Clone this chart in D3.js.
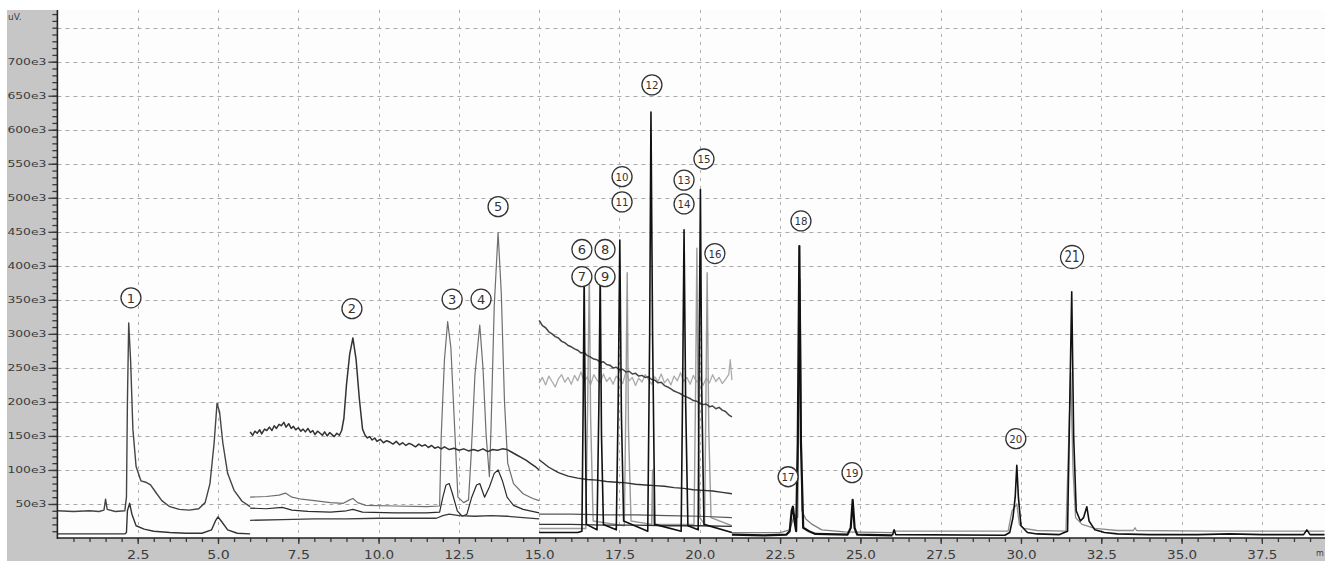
<!DOCTYPE html>
<html>
<head>
<meta charset="utf-8">
<script src="https://cdn.jsdelivr.net/npm/d3@7"></script>
<style>
  body { margin: 0; background: #fff; }
  svg { display: block; }
</style>
</head>
<body>
<div id="chart"></div>
<script>
// ---- data (time in min, signal in e3 units) ----
var xTicks = [2.5, 5.0, 7.5, 10.0, 12.5, 15.0, 17.5, 20.0, 22.5, 25.0, 27.5, 30.0, 32.5, 35.0, 37.5];
var xTickLabels = ["2.5", "5.0", "7.5", "10.0", "12.5", "15.0", "17.5", "20.0", "22.5", "25.0", "27.5", "30.0", "32.5", "35.0", "37.5"];
var yTicks = [50, 100, 150, 200, 250, 300, 350, 400, 450, 500, 550, 600, 650, 700];
var yTickLabels = ["50e3", "100e3", "150e3", "200e3", "250e3", "300e3", "350e3", "400e3", "450e3", "500e3", "550e3", "600e3", "650e3", "700e3"];
var yGrid = [50, 100, 150, 200, 250, 300, 350, 400, 450, 500, 550, 600, 650, 700, 750];

// segment 1 (0 - 6 min)
var seg1Upper = [[0,40],[0.5,39],[1.0,40],[1.3,39],[1.45,41],[1.5,57],[1.55,42],[1.8,39],[2.1,40],[2.15,60],[2.18,200],[2.22,316],[2.28,260],[2.35,160],[2.45,105],[2.6,84],[2.75,82],[2.9,78],[3.05,68],[3.25,55],[3.5,46],[3.8,42],[4.1,41],[4.4,43],[4.6,52],[4.75,80],[4.88,140],[4.97,198],[5.05,185],[5.15,140],[5.3,95],[5.5,70],[5.75,54],[6.0,46]];
var seg1Lower = [[0,6],[1.0,6],[2.1,6],[2.15,8],[2.18,40],[2.25,51],[2.32,35],[2.45,18],[2.7,13],[3.0,10],[3.5,8],[4.0,7],[4.5,7],[4.8,12],[4.92,25],[5.0,31],[5.1,25],[5.3,12],[5.6,7],[6.0,6]];

// segment 2 (6 - 15 min)
var seg2Noisy = [[6.0,156],[6.08,151],[6.15,157],[6.22,154],[6.3,159],[6.36,153],[6.45,160],[6.52,158],[6.6,163],[6.68,158],[6.75,165],[6.82,161],[6.9,167],[6.97,165],[7.05,170],[7.12,163],[7.2,168],[7.28,161],[7.35,164],[7.42,159],[7.5,162],[7.58,157],[7.65,160],[7.72,156],[7.8,161],[7.88,155],[7.95,158],[8.02,152],[8.1,157],[8.18,154],[8.25,151],[8.32,156],[8.4,150],[8.48,155],[8.55,152],[8.62,149],[8.7,154],[8.78,151],[8.85,158],[8.92,176],[9.0,225],[9.1,270],[9.2,294],[9.3,262],[9.4,205],[9.5,160],[9.58,151],[9.65,147],[9.72,149],[9.8,144],[9.88,147],[9.95,142],[10.05,145],[10.15,140],[10.25,143],[10.35,141],[10.45,138],[10.55,142],[10.65,137],[10.75,140],[10.85,136],[10.95,139],[11.05,137],[11.15,134],[11.25,138],[11.35,135],[11.45,137],[11.55,133],[11.65,136],[11.75,132],[11.85,134],[11.95,131],[12.05,134],[12.2,130],[12.35,132],[12.5,129],[12.65,131],[12.8,128],[12.95,130],[13.1,128],[13.25,131],[13.4,127],[13.55,130],[13.7,129],[13.85,131],[14.0,130],[14.15,126],[14.3,122],[14.45,118],[14.6,114],[14.75,109],[14.9,104],[15.0,100]];
var seg2Tall = [[6.0,60],[6.5,61],[6.9,63],[7.1,66],[7.3,60],[7.6,57],[8.0,55],[8.5,52],[8.9,51],[9.1,56],[9.2,58],[9.35,52],[9.6,48],[10.5,47],[11.5,46],[11.9,47],[11.95,150],[12.05,262],[12.15,318],[12.25,280],[12.35,180],[12.47,60],[12.65,52],[12.8,56],[12.88,120],[13.0,240],[13.15,313],[13.25,250],[13.35,150],[13.45,90],[13.5,160],[13.6,340],[13.72,449],[13.82,360],[13.92,200],[14.02,110],[14.2,80],[14.5,65],[14.8,58],[15.0,55]];
var seg2Small = [[6.0,44],[6.5,43],[7.0,45],[7.3,41],[7.8,39],[8.5,38],[9.0,40],[9.2,42],[9.5,38],[10.5,37],[11.5,37],[11.9,38],[12.0,60],[12.1,78],[12.2,80],[12.3,65],[12.45,40],[12.6,32],[12.75,35],[12.9,60],[13.05,78],[13.15,80],[13.3,60],[13.45,75],[13.6,95],[13.72,100],[13.85,85],[14.0,60],[14.2,48],[14.5,42],[15.0,37]];
var seg2Base = [[6.0,26],[7.0,27],[8.0,28],[9.0,28],[10.0,29],[11.0,29],[11.8,29],[12.0,33],[12.2,35],[12.5,33],[13.0,32],[13.5,33],[14.0,32],[14.5,30],[15.0,28]];

// segment 3 (15 - 21 min)
var seg3Drift = [[15.0,320],[15.1,312],[15.2,309],[15.3,303],[15.4,300],[15.5,296],[15.6,294],[15.7,289],[15.8,287],[15.9,283],[16.0,281],[16.1,278],[16.2,276],[16.3,272],[16.4,273],[16.5,268],[16.6,266],[16.7,263],[16.8,262],[16.9,258],[17.0,259],[17.1,255],[17.2,254],[17.3,250],[17.4,251],[17.5,247],[17.6,248],[17.7,244],[17.8,245],[17.9,241],[18.0,242],[18.1,238],[18.2,239],[18.3,236],[18.4,237],[18.5,233],[18.6,232],[18.7,228],[18.8,229],[18.9,224],[19.0,222],[19.1,219],[19.2,216],[19.3,214],[19.4,212],[19.5,209],[19.6,207],[19.7,205],[19.8,202],[19.9,201],[20.0,198],[20.1,196],[20.2,197],[20.3,193],[20.4,194],[20.5,190],[20.6,192],[20.7,188],[20.8,186],[20.9,181],[21.0,178]];
var seg3Flat = [[15.0,228],[15.1,236],[15.2,225],[15.3,238],[15.4,230],[15.5,222],[15.6,234],[15.7,240],[15.8,229],[15.9,236],[16.0,226],[16.1,239],[16.2,231],[16.3,244],[16.4,230],[16.5,237],[16.6,225],[16.7,240],[16.8,232],[16.9,228],[17.0,241],[17.1,230],[17.2,236],[17.3,226],[17.4,238],[17.5,233],[17.6,227],[17.7,244],[17.8,231],[17.9,236],[18.0,224],[18.1,235],[18.2,229],[18.3,240],[18.4,233],[18.5,226],[18.6,237],[18.7,230],[18.8,241],[18.9,228],[19.0,234],[19.1,225],[19.2,238],[19.3,231],[19.4,243],[19.5,230],[19.6,236],[19.7,226],[19.8,239],[19.9,229],[20.0,237],[20.1,224],[20.2,235],[20.3,228],[20.4,240],[20.5,230],[20.6,236],[20.7,227],[20.8,233],[20.9,240],[20.95,262],[21.0,232]];
var seg3Mid = [[15.0,115],[15.3,104],[15.6,96],[15.9,91],[16.2,88],[16.5,86],[16.8,85],[17.1,83],[17.4,82],[17.7,81],[18.0,79],[18.3,78],[18.6,77],[18.9,76],[19.2,74],[19.5,73],[19.8,71],[20.1,70],[20.4,69],[20.7,67],[21.0,65]];
var seg3Low = [[15.0,35],[16.0,35],[17.0,34],[18.0,34],[19.0,33],[20.0,32],[21.0,30]];
var seg3Floor = [[15.0,20],[16.0,20],[17.0,19],[18.0,19],[19.0,18],[20.0,18],[21.0,17]];
var seg3Black = [[15.0,8],[16.2,8],[16.33,10],[16.37,200],[16.4,387],[16.43,200],[16.47,20],[16.8,12],[16.86,200],[16.9,390],[16.94,150],[17.0,20],[17.4,12],[17.46,200],[17.51,438],[17.56,180],[17.63,25],[18.38,10],[18.44,300],[18.48,626],[18.53,300],[18.6,20],[19.42,10],[19.47,240],[19.51,453],[19.56,200],[19.63,18],[19.95,12],[19.98,260],[20.02,512],[20.06,220],[20.13,20],[21.0,8]];
var seg3Grey = [[15.0,14],[16.45,14],[16.51,200],[16.56,390],[16.6,180],[16.68,25],[17.65,18],[17.7,200],[17.74,390],[17.78,160],[17.86,25],[18.5,20],[18.53,100],[18.56,20],[19.82,20],[19.87,220],[19.91,426],[19.95,180],[20.0,30],[20.15,20],[20.19,200],[20.23,390],[20.28,160],[20.35,30],[21.0,18]];

// segment 4 (21 - 26 min)
var seg4Black = [[21.0,5],[22.0,4],[22.7,5],[22.8,10],[22.86,40],[22.9,46],[22.95,25],[23.0,10],[23.05,140],[23.1,429],[23.15,140],[23.22,15],[23.4,10],[23.6,6],[24.6,5],[24.7,15],[24.76,56],[24.82,15],[24.9,5],[26.0,4]];
var seg4Grey = [[21.0,8],[22.5,8],[22.8,12],[22.95,35],[23.05,30],[23.12,380],[23.18,40],[23.3,28],[23.5,20],[23.8,12],[24.5,9],[26.0,8]];

// segment 5 (26 min - end)
var seg5Black = [[26.0,4],[26.05,12],[26.1,5],[29.5,4],[29.65,8],[29.75,30],[29.82,60],[29.87,107],[29.92,60],[30.0,18],[30.2,8],[30.5,6],[31.2,5],[31.45,10],[31.52,200],[31.58,362],[31.64,150],[31.72,40],[31.85,25],[31.95,30],[32.05,46],[32.12,25],[32.3,12],[32.6,8],[33.0,6],[34.0,5],[35.5,5],[36.5,6],[37.5,5],[38.8,5],[38.9,12],[39.0,5],[39.45,5]];
var seg5Grey = [[26.0,10],[28.0,10],[29.6,10],[29.72,40],[29.8,45],[29.87,50],[29.95,20],[30.1,14],[30.5,11],[31.4,10],[31.55,243],[31.62,100],[31.7,30],[31.9,20],[32.3,14],[33.0,11],[33.5,11],[33.55,15],[33.6,11],[36.0,10],[39.45,10]];

// peak labels (numbers shown inside circles)
var peakNames = ["1","2","3","4","5","6","7","8","9","10","11","12","13","14","15","16","17","18","19","20","21"];
var peakTimes = [2.29, 9.17, 12.29, 13.19, 13.72, 16.33, 16.33, 17.05, 17.05, 17.58, 17.58, 18.51, 19.51, 19.51, 20.13, 20.47, 22.75, 23.15, 24.74, 29.84, 31.59];
var peakLevels = [353, 337, 351, 351, 487, 424, 384, 424, 384, 531, 494, 666, 526, 491, 557, 418, 90, 466, 96, 146, 413];

// ---- drawing ----
var width = 1325, height = 561;
var svg = d3.select("#chart").append("svg")
  .attr("width", width)
  .attr("height", height);

var x = d3.scaleLinear().domain([0, 39.45]).range([57.4, 1324.5]);
var y = d3.scaleLinear().domain([0, 776]).range([538, 10]);

// grey frame + white plotting area
svg.append("rect").attr("x", 7).attr("y", 10).attr("width", width - 7).attr("height", height - 10).attr("fill", "#c6c6c6");
svg.append("rect").attr("x", x(0)).attr("y", 10).attr("width", width - x(0)).attr("height", y(0) - 10).attr("fill", "#fdfdfd");

// grid
svg.selectAll(".hgrid").data(yGrid).enter().append("line")
  .attr("x1", x(0)).attr("x2", width)
  .attr("y1", function(d){ return Math.round(y(d)) + 0.5; })
  .attr("y2", function(d){ return Math.round(y(d)) + 0.5; })
  .attr("stroke", "#a8a8a8").attr("stroke-dasharray", "4,4");
svg.selectAll(".vgrid").data(xTicks).enter().append("line")
  .attr("x1", function(d){ return Math.round(x(d)) + 0.5; })
  .attr("x2", function(d){ return Math.round(x(d)) + 0.5; })
  .attr("y1", 10).attr("y2", y(0))
  .attr("stroke", "#b0b0b0").attr("stroke-dasharray", "3,5");

// traces
svg.append("clipPath").attr("id", "plot").append("rect")
  .attr("x", x(0)).attr("y", 10).attr("width", width - x(0)).attr("height", y(0) - 10);

var traces = [
  {d: seg3Flat, c: "#ababab", w: 1.3},
  {d: seg3Grey, c: "#9a9a9a", w: 1.4},
  {d: seg5Grey, c: "#8e8e8e", w: 1.3},
  {d: seg4Grey, c: "#808080", w: 1.3},
  {d: seg2Tall, c: "#6e6e6e", w: 1.2},
  {d: seg1Upper, c: "#444", w: 1.4},
  {d: seg1Lower, c: "#333", w: 1.4},
  {d: seg2Noisy, c: "#333", w: 1.5},
  {d: seg2Small, c: "#2a2a2a", w: 1.2},
  {d: seg2Base, c: "#3a3a3a", w: 1.3},
  {d: seg3Drift, c: "#444", w: 1.5},
  {d: seg3Mid, c: "#333", w: 1.4},
  {d: seg3Low, c: "#555", w: 1.2},
  {d: seg3Floor, c: "#333", w: 1.3},
  {d: seg3Black, c: "#111", w: 1.6},
  {d: seg4Black, c: "#111", w: 2.2},
  {d: seg5Black, c: "#111", w: 1.6}
];

var line = d3.line()
  .x(function(d){ return x(d[0]); })
  .y(function(d){ return y(d[1]); });

svg.append("g").attr("clip-path", "url(#plot)")
  .selectAll("path").data(traces).enter().append("path")
  .attr("d", function(t){ return line(t.d); })
  .attr("fill", "none")
  .attr("stroke", function(t){ return t.c; })
  .attr("stroke-width", function(t){ return t.w; })
  .attr("stroke-linejoin", "round");

// axes
var yMinor = svg.append("g").attr("transform", "translate(" + x(0) + ",0)")
  .call(d3.axisLeft(y).tickValues(d3.range(10, 771, 10)).tickSize(5).tickFormat(""));
var yAxis = svg.append("g").attr("transform", "translate(" + x(0) + ",0)")
  .call(d3.axisLeft(y).tickValues(yTicks).tickSize(9).tickPadding(2)
    .tickFormat(function(d, i){ return yTickLabels[i]; }));
var xMinor = svg.append("g").attr("transform", "translate(0," + y(0) + ")")
  .call(d3.axisBottom(x).tickValues(d3.range(0.5, 39.4, 0.5)).tickSize(4).tickFormat(""));
var xAxis = svg.append("g").attr("transform", "translate(0," + y(0) + ")")
  .call(d3.axisBottom(x).tickValues(xTicks).tickSize(6).tickPadding(6)
    .tickFormat(function(d, i){ return xTickLabels[i]; }));

[yMinor, yAxis, xMinor, xAxis].forEach(function(g){
  g.select(".domain").remove();
  g.selectAll(".tick line").attr("stroke", "#3a3a3a").attr("stroke-width", 1.3);
});
yAxis.selectAll("text")
  .attr("font-family", "DejaVu Sans").attr("font-size", 9).attr("fill", "#3c3c3c")
  .attr("textLength", function(d, i){ return yTickLabels[i].length * 8 - 1; })
  .attr("lengthAdjust", "spacingAndGlyphs");
xAxis.selectAll("text")
  .attr("font-family", "DejaVu Sans").attr("font-size", 12).attr("fill", "#3c3c3c")
  .attr("textLength", function(d, i){ return xTickLabels[i].length * 7.5; })
  .attr("lengthAdjust", "spacingAndGlyphs");

// axis lines
svg.append("line").attr("x1", x(0)).attr("x2", x(0)).attr("y1", 10).attr("y2", y(0) + 1)
  .attr("stroke", "#222").attr("stroke-width", 1.6);
svg.append("line").attr("x1", x(0)).attr("x2", width).attr("y1", y(0)).attr("y2", y(0))
  .attr("stroke", "#222").attr("stroke-width", 1.6);

// unit labels
svg.append("text").attr("x", 8).attr("y", 20).text("uV.")
  .attr("font-family", "DejaVu Sans").attr("font-size", 9).attr("fill", "#3c3c3c");
svg.append("text").attr("x", 1316).attr("y", 556).text("m")
  .attr("font-family", "DejaVu Sans").attr("font-size", 8).attr("fill", "#3c3c3c");

// circled peak numbers
var peaks = svg.selectAll(".peak").data(peakNames).enter().append("g")
  .attr("transform", function(d, i){ return "translate(" + x(peakTimes[i]) + "," + y(peakLevels[i]) + ")"; });
peaks.append("circle")
  .attr("r", function(d){ return d === "21" ? 11.5 : 10; })
  .attr("fill", "#fff")
  .attr("stroke", "#333")
  .attr("stroke-width", 1.3);
peaks.append("text")
  .attr("text-anchor", "middle")
  .attr("dy", "0.36em")
  .attr("font-family", "DejaVu Sans")
  .attr("font-size", function(d){ return d === "21" ? 15 : (d.length > 1 ? 11 : 13); })
  .attr("textLength", function(d){ return d.length > 1 ? (d === "21" ? 15 : 13) : null; })
  .attr("lengthAdjust", "spacingAndGlyphs")
  .attr("fill", "#333")
  .text(function(d){ return d; });
</script>
</body>
</html>
